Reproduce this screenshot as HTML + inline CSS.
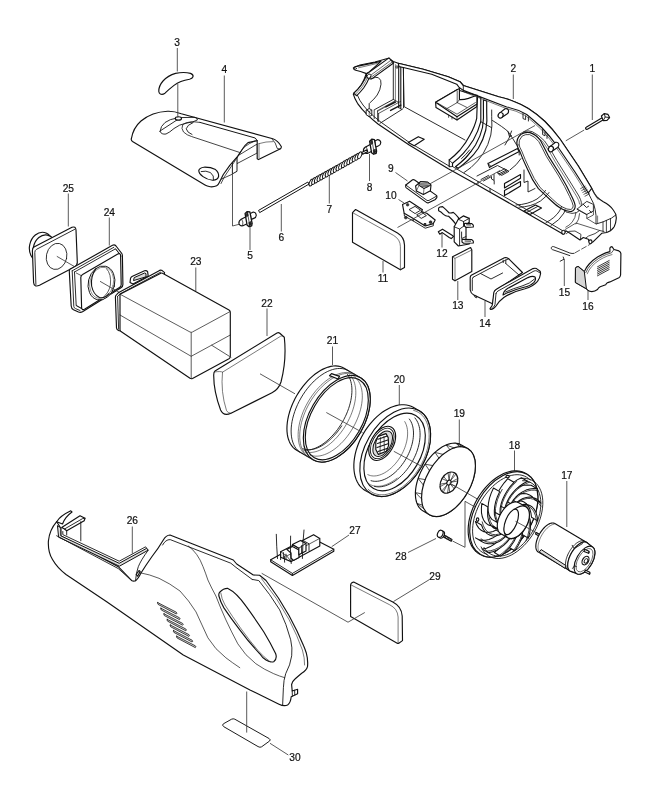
<!DOCTYPE html>
<html><head><meta charset="utf-8"><title>Exploded parts diagram</title>
<style>
html,body{margin:0;padding:0;background:#fff}
svg{display:block;filter:grayscale(1)}
.p{fill:#fff;stroke:#111;stroke-width:1.15;stroke-linejoin:round;stroke-linecap:round}
.g{fill:#dcdcdc;stroke:#111;stroke-width:1;stroke-linejoin:round;stroke-linecap:round}
.n{fill:none;stroke:#151515;stroke-width:.9;stroke-linejoin:round;stroke-linecap:round}
.t{fill:none;stroke:#333;stroke-width:.65;stroke-linejoin:round;stroke-linecap:round}
.l{fill:none;stroke:#3c3c3c;stroke-width:.85}
.k{fill:#333;stroke:#1c1c1c;stroke-width:.6}
.gf{fill:#dcdcdc;stroke:none}
text{font-family:"Liberation Sans",Arial,Helvetica,sans-serif;font-size:10.2px;fill:#111;stroke:#111;stroke-width:.2;text-anchor:middle}
</style></head><body>
<svg width="652" height="800" viewBox="0 0 652 800">
<rect width="652" height="800" fill="#fff"/>
<g id="leaders">
<path class="l" d="M592.3 74.5 L592.3 120"/>
<path class="l" d="M513.3 74.5 L513.3 99"/>
<path class="l" d="M177.3 48 L177.3 71.5"/>
<path class="l" d="M224.3 75.5 L224.3 122.5"/>
<path class="l" d="M250 250 L250 226"/>
<path class="l" d="M281.3 231.5 L281.3 204"/>
<path class="l" d="M329.3 203.5 L329.3 175"/>
<path class="l" d="M369.5 181 L369.5 154"/>
<path class="l" d="M395.5 172.5 L407.5 181"/>
<path class="l" d="M398.5 199.5 L404 203"/>
<path class="l" d="M383 272.5 L383 261"/>
<path class="l" d="M442 247.5 L442 232.5"/>
<path class="l" d="M457.8 300 L457.8 281"/>
<path class="l" d="M485 317 L485 301"/>
<path class="l" d="M564.3 286 L564.3 259"/>
<path class="l" d="M588 300 L588 290.5"/>
<path class="l" d="M566.8 481 L566.8 527"/>
<path class="l" d="M514.5 450.5 L514.5 471"/>
<path class="l" d="M459.3 419.5 L459.3 445"/>
<path class="l" d="M399.3 385 L399.3 405"/>
<path class="l" d="M332.5 346.5 L332.5 365"/>
<path class="l" d="M267 308.5 L267 336"/>
<path class="l" d="M195.8 267.5 L195.8 291"/>
<path class="l" d="M109.3 217.5 L109.3 245.5"/>
<path class="l" d="M68.3 193.5 L68.3 226.5"/>
<path class="l" d="M132.3 526.5 L132.3 553.5"/>
<path class="l" d="M349 535 L331.7 546.7"/>
<path class="l" d="M408 552.5 L436 538.5"/>
<path class="l" d="M429.5 579.5 L393.5 601.5"/>
<path class="l" d="M288.3 755 L270 743.3"/>
</g>
<g id="p25">
<ellipse class="p" cx="41.3" cy="247" rx="11.8" ry="14.8" transform="rotate(12 41.3 247)"/>
<ellipse class="p" cx="44.5" cy="249" rx="11.2" ry="14.2" transform="rotate(12 44.5 249)"/>
<path class="p" d="M34 247 L72 227.3 Q75.6 226 76 230 L77.3 262 Q77.4 265.3 74.5 267 L39.5 285.3 Q34 287.6 33.6 282.5 L32.4 251 Q32.3 248 34 247 Z"/>
<path class="n" d="M35.9 284.5 L34.8 252.5 Q34.8 250.3 36.4 249.4 L74.6 229.4"/>
<ellipse class="p" cx="56.6" cy="256.4" rx="10.2" ry="13.2" transform="rotate(12 56.6 256.4)" style="stroke-width:.8"/>
<path class="l" d="M56.8 256.3 L74 266.3"/>
</g>
<g id="p24">
<path class="p" d="M70 269.3 L112.5 245.3 Q114.5 244.3 116 246 L121.8 253.5 Q122.4 254.3 122.4 256 L122.9 284.5 Q122.9 286.6 121 287.7 L82.5 311.8 Q80.5 312.8 78.5 312 L73.5 309.8 Q71.4 308.6 71.2 306 L69.3 271.5 Q69.2 269.9 70 269.3 Z"/>
<path class="n" d="M72.2 270.8 L113.8 247.3 M72.2 270.8 L73.8 306.5 Q74 308 75.5 308.6 L80 310.5"/>
<path class="n" d="M74.5 272 L115.5 248.8 L121 256"/>
<path class="n" d="M74.5 272 L76.2 305.5 L81.5 308.5"/>
<path class="p" d="M82.6 274.6 L117.8 254 Q120.4 252.8 120.6 255.8 L121.2 284.5 Q121.2 286.5 119.5 287.6 L84.5 309.3 Q81.8 310.5 81.6 307.5 L80.8 277.6 Q80.8 275.6 82.6 274.6 Z"/>
<path class="n" d="M76.3 273 L81.2 275.6 M115.5 248.8 L119.4 253.4 M76.2 305.5 L81.7 308.5" style="stroke-width:.7"/>
<ellipse class="p" cx="101.5" cy="283" rx="13.2" ry="17.2" transform="rotate(14 101.5 283)" style="stroke-width:.9"/>
<ellipse class="n" cx="101.7" cy="282.8" rx="11.8" ry="15.8" transform="rotate(14 101.7 282.8)" style="stroke-width:.6;stroke:#555"/>
<path class="n" d="M96 268.6 Q90.5 276 91.6 286 Q93.4 294.6 99.5 297.6 Q105 298.6 109 293.6" style="stroke-width:1.1"/>
<path class="n" d="M106.5 268.6 Q111.6 274 110.4 285 Q108.8 293 103.5 297" style="stroke-width:.7"/>
<path class="l" d="M100 281.3 L120 292.8"/>
</g>
<g id="p23">
<path class="p" d="M130 282.5 L130.5 278.5 Q130.8 277 132 276.4 L144.5 270.8 Q146.5 270.2 147.6 271.6 L148.2 276 L133 284 Z"/>
<path class="g" d="M133.6 280.2 L134.2 277.6 L144.6 273 L146 273.6 L146 276.4 Z"/>
<path class="p" d="M115.4 297 Q115.4 295.6 116.6 294.6 L118.8 292.4 L159.6 270.4 Q161 269.8 162.2 270.6 L164.6 272.6 L164 276 L121 299 L121.6 331 L119 330.6 Q116.6 330 116.5 328 Z"/>
<path class="n" d="M117.6 296.4 L118.6 329 M117.6 296.4 L120 293.9 L160.6 272.2"/>
<path class="p" d="M120 294.2 L160.8 273.2 Q162 272.8 163 273.4 L229 310 Q230.3 310.8 230.3 312.5 L230.3 356.5 Q230.3 358 229 358.8 L192.5 378.5 Q191.2 379 190 378.3 L121 331.5 Q120 331 120 329.5 Z"/>
<path class="n" d="M120 294.2 L190 332 Q191.2 332.6 192.4 332 L230 311.6 M191.2 332.6 L191.2 378.6" style="stroke-width:.7"/>
<path class="n" d="M120 315 L191.2 356.3 L230.3 335" style="stroke-width:.7"/>
</g>
<path class="l" d="M211.3 345 L231.3 357.5"/>
<g id="p22">
<path class="p" d="M215 371 L277 333 Q278.5 332.2 279.8 333.2 L284.3 337.2 Q286.8 360 281 382 Q278.5 389.5 272 392.8 L231 413.2 Q223.5 416.5 220.6 410 Q213.6 391 213.7 375 Q213.7 372 215 371 Z"/>
<path class="t" d="M214.5 372 Q221 371 222.5 372.2 L280.5 336.3 Q281.5 335.8 282.5 336"/>
<path class="t" d="M222.5 372.2 Q220.5 392 226.5 410.5 Q227.8 413.5 231 413.2"/>
<path class="l" d="M260 373.8 L295 393.8"/>
</g>
<g id="p21">
<path class="p" d="M296.70 450.25 L294.92 449.05 L293.29 447.61 L291.84 445.93 L290.55 444.02 L289.46 441.90 L288.55 439.58 L287.84 437.07 L287.33 434.39 L287.02 431.55 L286.92 428.57 L287.03 425.48 L287.34 422.29 L287.86 419.01 L288.57 415.67 L289.49 412.30 L290.59 408.90 L291.88 405.51 L293.34 402.14 L294.97 398.81 L296.76 395.55 L298.69 392.37 L300.76 389.30 L302.94 386.34 L305.24 383.53 L307.63 380.88 L310.09 378.40 L312.62 376.11 L315.20 374.03 L317.81 372.16 L320.44 370.52 L323.07 369.12 L325.68 367.97 L328.25 367.07 L330.78 366.43 L333.25 366.05 L335.63 365.94 L337.93 366.10 L340.11 366.52 L342.17 367.21 L344.10 368.15 L360.50 377.65 L362.28 378.85 L363.91 380.29 L365.36 381.97 L366.65 383.88 L367.74 386.00 L368.65 388.32 L369.36 390.83 L369.87 393.51 L370.18 396.35 L370.28 399.33 L370.17 402.42 L369.86 405.61 L369.34 408.89 L368.63 412.23 L367.71 415.60 L366.61 419.00 L365.32 422.39 L363.86 425.76 L362.23 429.09 L360.44 432.35 L358.51 435.53 L356.44 438.60 L354.26 441.56 L351.96 444.37 L349.57 447.02 L347.11 449.50 L344.58 451.79 L342.00 453.87 L339.39 455.74 L336.76 457.38 L334.13 458.78 L331.52 459.93 L328.95 460.83 L326.42 461.47 L323.95 461.85 L321.57 461.96 L319.27 461.80 L317.09 461.38 L315.03 460.69 L313.10 459.75 Z"/>
<ellipse class="p" transform="translate(336.80 418.70) rotate(30)" rx="27.30" ry="47.40" />
<path class="n" d="M300.90 452.75 L299.12 451.55 L297.49 450.11 L296.04 448.43 L294.75 446.52 L293.66 444.40 L292.75 442.08 L292.04 439.57 L291.53 436.89 L291.22 434.05 L291.12 431.07 L291.23 427.98 L291.54 424.79 L292.06 421.51 L292.77 418.17 L293.69 414.80 L294.79 411.40 L296.08 408.01 L297.54 404.64 L299.17 401.31 L300.96 398.05 L302.89 394.87 L304.96 391.80 L307.14 388.84 L309.44 386.03 L311.83 383.38 L314.29 380.90 L316.82 378.61 L319.40 376.53 L322.01 374.66 L324.64 373.02 L327.27 371.62 L329.88 370.47 L332.45 369.57 L334.98 368.93 L337.45 368.55 L339.83 368.44 L342.13 368.60 L344.31 369.02 L346.37 369.71 L348.30 370.65"/>
<path class="t" d="M307.09 456.25 L305.41 454.97 L303.89 453.46 L302.53 451.73 L301.34 449.79 L300.33 447.65 L299.51 445.32 L298.87 442.81 L298.43 440.14 L298.18 437.33 L298.13 434.40 L298.28 431.35 L298.62 428.21 L299.16 424.99 L299.89 421.73 L300.80 418.42 L301.90 415.10 L303.17 411.78 L304.61 408.49 L306.21 405.24 L307.96 402.05 L309.85 398.94 L311.86 395.93 L313.99 393.04 L316.23 390.28 L318.56 387.67 L320.96 385.22 L323.43 382.96 L325.94 380.88 L328.49 379.02 L331.06 377.37 L333.63 375.94 L336.18 374.75 L338.71 373.80 L341.20 373.10 L343.63 372.65 L346.00 372.45 L348.27 372.51 L350.45 372.82 L352.52 373.38 L354.46 374.20"/>
<path class="t" d="M308.30 456.88 L306.67 455.57 L305.20 454.03 L303.89 452.28 L302.75 450.32 L301.78 448.16 L300.99 445.83 L300.39 443.33 L299.98 440.67 L299.76 437.87 L299.74 434.96 L299.90 431.93 L300.26 428.82 L300.81 425.64 L301.54 422.40 L302.46 419.13 L303.55 415.85 L304.82 412.57 L306.24 409.32 L307.83 406.10 L309.56 402.95 L311.42 399.88 L313.41 396.90 L315.52 394.03 L317.73 391.30 L320.02 388.71 L322.39 386.28 L324.83 384.03 L327.31 381.96 L329.83 380.10 L332.36 378.44 L334.91 377.01 L337.44 375.80 L339.94 374.83 L342.41 374.09 L344.82 373.61 L347.17 373.37 L349.44 373.38 L351.61 373.64 L353.68 374.14 L355.63 374.89"/>
<ellipse class="p" transform="translate(336.80 418.70) rotate(30)" rx="25.50" ry="45.00" />
<path class="n" d="M347.57 374.47 L348.57 375.99 L349.45 377.66 L350.20 379.46 L350.81 381.40 L351.30 383.46 L351.65 385.63 L351.86 387.91 L351.93 390.28 L351.86 392.73 L351.65 395.25 L351.31 397.84 L350.83 400.48 L350.22 403.15 L349.48 405.85 L348.61 408.57 L347.61 411.29 L346.50 414.00 L345.27 416.68 L343.93 419.34 L342.48 421.95 L340.94 424.50 L339.31 426.99 L337.60 429.40 L335.81 431.72 L333.96 433.94 L332.04 436.06 L330.07 438.05 L328.06 439.92 L326.02 441.65 L323.95 443.24 L321.87 444.68 L319.78 445.96 L317.69 447.09 L315.61 448.04 L313.56 448.83 L311.53 449.44 L309.55 449.87 L307.61 450.13 L305.73 450.20 L303.91 450.10"/>
<path class="t" d="M349.65 374.68 L350.93 376.07 L352.07 377.63 L353.06 379.37 L353.91 381.28 L354.61 383.34 L355.15 385.54 L355.54 387.87 L355.76 390.33 L355.83 392.90 L355.73 395.56 L355.47 398.30 L355.05 401.11 L354.48 403.97 L353.75 406.87 L352.86 409.79 L351.84 412.73 L350.67 415.66 L349.37 418.56 L347.94 421.43 L346.38 424.25 L344.72 427.00 L342.95 429.68 L341.08 432.26 L339.13 434.73 L337.11 437.09 L335.01 439.32 L332.87 441.40 L330.67 443.33 L328.45 445.10 L326.21 446.69 L323.95 448.10 L321.70 449.33 L319.46 450.37 L317.24 451.20 L315.06 451.83 L312.93 452.26 L310.86 452.47 L308.85 452.48 L306.93 452.28 L305.09 451.87"/>
<path class="n" d="M341.72 425.85 L340.89 427.11 L340.03 428.36 L339.15 429.58 L338.26 430.78 L337.34 431.95 L336.40 433.10 L335.45 434.21 L334.48 435.30 L333.50 436.36 L332.51 437.38 L331.50 438.38 L330.48 439.33 L329.45 440.25 L328.41 441.14 L327.37 441.98 L326.32 442.79 L325.27 443.56 L324.21 444.28 L323.15 444.97 L322.09 445.61 L321.04 446.20 L319.98 446.76 L318.93 447.26 L317.88 447.72 L316.84 448.14 L315.80 448.51 L314.78 448.83 L313.76 449.10 L312.76 449.33 L311.77 449.50 L310.79 449.63 L309.83 449.71 L308.88 449.74 L307.95 449.72 L307.04 449.65 L306.15 449.54 L305.28 449.37 L304.43 449.16 L303.61 448.90 L302.81 448.59"/>
<path class="t" d="M354.79 377.21 L356.25 378.48 L357.58 379.95 L358.75 381.62 L359.76 383.48 L360.62 385.51 L361.30 387.72 L361.81 390.08 L362.15 392.58 L362.31 395.21 L362.30 397.95 L362.10 400.78 L361.73 403.70 L361.19 406.69 L360.48 409.72 L359.59 412.78 L358.55 415.86 L357.35 418.93 L356.00 421.98 L354.51 424.99 L352.88 427.95 L351.13 430.84 L349.27 433.63 L347.30 436.33 L345.24 438.90 L343.10 441.35 L340.89 443.64 L338.62 445.78 L336.31 447.74 L333.97 449.52 L331.61 451.10 L329.24 452.49 L326.88 453.66 L324.55 454.62 L322.25 455.35 L320.00 455.86 L317.81 456.14 L315.69 456.19 L313.66 456.01 L311.72 455.60 L309.90 454.97"/>
<path class="p" d="M329.5 375.6 L331.5 373.6 L339.5 376.4 L338 379 Z"/>
<path class="l" d="M326.3 412.5 L362.5 432.5"/>
</g>
<g id="p20">
<path class="p" d="M365.20 490.47 L363.24 489.16 L361.43 487.61 L359.80 485.82 L358.35 483.80 L357.08 481.56 L356.02 479.13 L355.16 476.51 L354.51 473.71 L354.08 470.77 L353.86 467.69 L353.86 464.49 L354.07 461.20 L354.51 457.83 L355.16 454.41 L356.01 450.95 L357.07 447.48 L358.33 444.02 L359.78 440.59 L361.42 437.21 L363.22 433.90 L365.18 430.68 L367.29 427.58 L369.54 424.61 L371.91 421.79 L374.38 419.13 L376.95 416.66 L379.59 414.39 L382.29 412.33 L385.03 410.50 L387.80 408.90 L390.58 407.55 L393.35 406.45 L396.09 405.62 L398.79 405.05 L401.43 404.75 L404.00 404.73 L406.47 404.98 L408.84 405.50 L411.09 406.28 L413.20 407.33 L419.20 410.73 L421.16 412.04 L422.97 413.59 L424.60 415.38 L426.05 417.40 L427.32 419.64 L428.38 422.07 L429.24 424.69 L429.89 427.49 L430.32 430.43 L430.54 433.51 L430.54 436.71 L430.33 440.00 L429.89 443.37 L429.24 446.79 L428.39 450.25 L427.33 453.72 L426.07 457.18 L424.62 460.61 L422.98 463.99 L421.18 467.30 L419.22 470.52 L417.11 473.62 L414.86 476.59 L412.49 479.41 L410.02 482.07 L407.45 484.54 L404.81 486.81 L402.11 488.87 L399.37 490.70 L396.60 492.30 L393.82 493.65 L391.05 494.75 L388.31 495.58 L385.61 496.15 L382.97 496.45 L380.40 496.47 L377.93 496.22 L375.56 495.70 L373.31 494.92 L371.20 493.87 Z"/>
<ellipse class="p" transform="translate(395.20 452.30) rotate(30)" rx="30.00" ry="48.00" />
<path class="t" d="M413.63 410.41 L416.05 411.19 L418.30 412.29 L420.38 413.69 L422.27 415.39 L423.95 417.37 L425.41 419.61 L426.64 422.10 L427.63 424.83 L428.38 427.76 L428.87 430.87 L429.11 434.16 L429.09 437.57 L428.81 441.11 L428.27 444.72 L427.49 448.40 L426.46 452.10 L425.19 455.81 L423.69 459.48 L421.97 463.11 L420.05 466.65 L417.95 470.08 L415.67 473.38 L413.23 476.52 L410.66 479.47 L407.96 482.21 L405.17 484.73 L402.31 487.00 L399.39 489.01 L396.44 490.74 L393.48 492.17 L390.53 493.31 L387.62 494.12 L384.77 494.63 L381.99 494.81 L379.32 494.66 L376.77 494.19 L374.35 493.41 L372.10 492.31 L370.02 490.91 L368.13 489.21"/>
<ellipse class="p" transform="translate(394.60 452.00) rotate(30)" rx="25.80" ry="42.20" />
<path class="n" d="M414.94 417.95 L416.02 419.36 L416.99 420.91 L417.84 422.59 L418.55 424.41 L419.13 426.35 L419.58 428.39 L419.89 430.54 L420.06 432.78 L420.09 435.10 L419.98 437.49 L419.73 439.94 L419.35 442.43 L418.82 444.96 L418.17 447.51 L417.38 450.07 L416.47 452.63 L415.44 455.18 L414.28 457.70 L413.02 460.18 L411.65 462.61 L410.18 464.98 L408.61 467.28 L406.97 469.49 L405.24 471.61 L403.45 473.63 L401.59 475.53 L399.69 477.31 L397.74 478.96 L395.76 480.47 L393.75 481.83 L391.73 483.04 L389.70 484.09 L387.68 484.98 L385.67 485.70 L383.69 486.25 L381.74 486.63 L379.83 486.83 L377.98 486.86 L376.18 486.70 L374.46 486.38"/>
<path class="n" d="M409.34 419.02 L410.28 420.37 L411.10 421.85 L411.81 423.45 L412.39 425.16 L412.86 426.98 L413.20 428.90 L413.42 430.90 L413.50 432.98 L413.46 435.13 L413.30 437.34 L413.01 439.60 L412.59 441.89 L412.05 444.22 L411.39 446.55 L410.61 448.89 L409.72 451.22 L408.71 453.54 L407.61 455.82 L406.40 458.07 L405.10 460.26 L403.72 462.40 L402.25 464.46 L400.71 466.44 L399.10 468.33 L397.44 470.12 L395.72 471.80 L393.96 473.37 L392.16 474.81 L390.34 476.13 L388.50 477.31 L386.66 478.34 L384.81 479.23 L382.97 479.97 L381.15 480.55 L379.36 480.97 L377.60 481.24 L375.89 481.34 L374.22 481.29 L372.62 481.07 L371.08 480.69"/>
<path class="t" d="M404.74 421.61 L405.49 422.95 L406.12 424.40 L406.65 425.95 L407.06 427.60 L407.37 429.34 L407.55 431.15 L407.62 433.04 L407.57 434.99 L407.41 436.99 L407.13 439.04 L406.74 441.11 L406.23 443.21 L405.62 445.32 L404.90 447.44 L404.07 449.54 L403.15 451.63 L402.13 453.68 L401.02 455.70 L399.83 457.67 L398.56 459.58 L397.21 461.42 L395.80 463.19 L394.33 464.87 L392.81 466.46 L391.25 467.95 L389.64 469.32 L388.01 470.59 L386.36 471.73 L384.70 472.75 L383.03 473.63 L381.36 474.38 L379.71 474.98 L378.07 475.45 L376.46 475.77 L374.89 475.94 L373.36 475.97 L371.88 475.85 L370.46 475.58 L369.10 475.17 L367.81 474.61"/>
<path class="t" d="M397.04 478.12 L396.24 478.75 L395.44 479.37 L394.63 479.96 L393.82 480.53 L393.00 481.07 L392.19 481.58 L391.37 482.08 L390.55 482.54 L389.73 482.98 L388.91 483.40 L388.09 483.78 L387.27 484.14 L386.45 484.47 L385.64 484.78 L384.83 485.06 L384.02 485.30 L383.21 485.53 L382.42 485.72 L381.62 485.88 L380.84 486.02 L380.06 486.12 L379.29 486.20 L378.52 486.25 L377.77 486.27 L377.02 486.26 L376.29 486.22 L375.56 486.15 L374.85 486.06 L374.15 485.93 L373.46 485.78 L372.78 485.59 L372.11 485.38 L371.46 485.14 L370.83 484.88 L370.21 484.58 L369.60 484.26 L369.01 483.91 L368.43 483.53 L367.88 483.13 L367.33 482.70"/>
<ellipse class="p" transform="translate(382.20 443.40) rotate(30)" rx="11.20" ry="18.60" />
<ellipse class="n" transform="translate(382.20 443.40) rotate(30)" rx="9.80" ry="16.60" />
<ellipse class="g" transform="translate(382.70 443.70) rotate(30)" rx="8.00" ry="14.00" />
<path class="p" d="M378 436.4 L386 433.6 L388.2 437.6 L388.6 445.4 L386.4 451.2 L378.4 454.4 L375.8 449.6 L375.8 442 Z"/>
<path class="n" d="M378 439.2 L386.6 436.2 M377.4 443.4 L387.8 440 M377 447.6 L388 443.8 M378 451.6 L387 448.4" style="stroke-width:1.1"/>
<path class="n" d="M380.5 437.6 L380 452.6 M384 436.4 L384.4 451"  style="stroke-width:.7"/>
<path class="l" d="M393.8 451.3 L423.8 467.5"/>
</g>
<g id="p19">
<path class="p" d="M423.20 511.08 L421.77 510.12 L420.47 508.96 L419.30 507.61 L418.27 506.08 L417.40 504.37 L416.67 502.51 L416.10 500.49 L415.70 498.33 L415.46 496.04 L415.38 493.65 L415.47 491.16 L415.73 488.59 L416.15 485.95 L416.73 483.26 L417.47 480.54 L418.36 477.81 L419.40 475.08 L420.58 472.36 L421.89 469.68 L423.33 467.05 L424.89 464.49 L426.56 462.01 L428.32 459.63 L430.16 457.36 L432.09 455.22 L434.07 453.22 L436.11 451.38 L438.18 449.70 L440.28 448.19 L442.39 446.86 L444.51 445.73 L446.60 444.80 L448.68 444.07 L450.71 443.55 L452.69 443.25 L454.60 443.15 L456.44 443.28 L458.20 443.61 L459.85 444.16 L461.40 444.92 L467.60 448.52 L469.03 449.48 L470.33 450.64 L471.50 451.99 L472.53 453.52 L473.40 455.23 L474.13 457.09 L474.70 459.11 L475.10 461.27 L475.34 463.56 L475.42 465.95 L475.33 468.44 L475.07 471.01 L474.65 473.65 L474.07 476.34 L473.33 479.06 L472.44 481.79 L471.40 484.52 L470.22 487.24 L468.91 489.92 L467.47 492.55 L465.91 495.11 L464.24 497.59 L462.48 499.97 L460.64 502.24 L458.71 504.38 L456.73 506.38 L454.69 508.22 L452.62 509.90 L450.52 511.41 L448.41 512.74 L446.29 513.87 L444.20 514.80 L442.12 515.53 L440.09 516.05 L438.11 516.35 L436.20 516.45 L434.36 516.32 L432.60 515.99 L430.95 515.44 L429.40 514.68 Z"/>
<ellipse class="p" transform="translate(448.50 481.60) rotate(30)" rx="21.90" ry="38.20" />
<path class="n" d="M424.1 508.9 L417.0 503.4 L422.6 505.2" style="stroke-width:.75"/>
<path class="n" d="M421.6 498.9 L415.4 492.6 L421.7 493.9" style="stroke-width:.75"/>
<path class="n" d="M423.4 485.1 L418.1 478.4 L425.2 479.6" style="stroke-width:.75"/>
<path class="n" d="M429.5 470.7 L425.1 464.2 L432.8 465.6" style="stroke-width:.75"/>
<path class="n" d="M438.9 458.1 L435.0 452.4 L443.0 454.4" style="stroke-width:.75"/>
<path class="n" d="M450.0 449.7 L446.1 445.0 L454.2 447.9" style="stroke-width:.75"/>
<path class="n" d="M460.0 446.8 L455.8 443.2 L463.6 447.0" style="stroke-width:.75"/>
<ellipse class="p" transform="translate(448.90 482.60) rotate(30)" rx="8.00" ry="11.30" />
<path class="n" d="M454.5 472.8 L450.5 480.6 L456.1 474.1" style="stroke-width:.7"/>
<path class="n" d="M457.8 478.5 L451.0 482.2 L457.7 481.0" style="stroke-width:.7"/>
<path class="n" d="M455.8 486.6 L450.2 484.0 L454.3 488.8" style="stroke-width:.7"/>
<path class="n" d="M449.8 492.3 L448.7 485.0 L447.6 493.0" style="stroke-width:.7"/>
<path class="n" d="M443.2 492.4 L447.3 484.6 L441.7 491.1" style="stroke-width:.7"/>
<path class="n" d="M440.0 486.7 L446.8 483.0 L440.1 484.2" style="stroke-width:.7"/>
<path class="n" d="M442.0 478.6 L447.6 481.2 L443.5 476.4" style="stroke-width:.7"/>
<path class="n" d="M448.0 472.9 L449.1 480.2 L450.2 472.2" style="stroke-width:.7"/>
<ellipse class="p" transform="translate(448.90 482.60) rotate(30)" rx="1.90" ry="2.60" />
<path class="l" d="M449.5 483 L480 500.5"/>
</g>
<g id="p18">
<path class="p" d="M479.00 553.68 L477.11 552.43 L475.38 550.94 L473.82 549.21 L472.43 547.27 L471.22 545.11 L470.21 542.77 L469.39 540.24 L468.77 537.55 L468.36 534.70 L468.16 531.73 L468.17 528.65 L468.39 525.47 L468.81 522.22 L469.44 518.91 L470.28 515.57 L471.31 512.22 L472.53 508.88 L473.94 505.56 L475.52 502.30 L477.26 499.10 L479.16 495.99 L481.19 492.99 L483.36 490.12 L485.65 487.39 L488.04 484.82 L490.51 482.43 L493.06 480.23 L495.66 478.23 L498.30 476.45 L500.97 474.90 L503.64 473.59 L506.31 472.53 L508.95 471.71 L511.55 471.16 L514.09 470.86 L516.56 470.83 L518.94 471.07 L521.21 471.56 L523.37 472.31 L525.40 473.32 L527.00 474.22 L528.89 475.47 L530.62 476.96 L532.18 478.69 L533.57 480.63 L534.78 482.79 L535.79 485.13 L536.61 487.66 L537.23 490.35 L537.64 493.20 L537.84 496.17 L537.83 499.25 L537.61 502.43 L537.19 505.68 L536.56 508.99 L535.72 512.33 L534.69 515.68 L533.47 519.02 L532.06 522.34 L530.48 525.60 L528.74 528.80 L526.84 531.91 L524.81 534.91 L522.64 537.78 L520.35 540.51 L517.96 543.08 L515.49 545.47 L512.94 547.67 L510.34 549.67 L507.70 551.45 L505.03 553.00 L502.36 554.31 L499.69 555.37 L497.05 556.19 L494.45 556.74 L491.91 557.04 L489.44 557.07 L487.06 556.83 L484.79 556.34 L482.63 555.59 L480.60 554.58 Z"/>
<ellipse class="p" transform="translate(503.80 514.40) rotate(30)" rx="28.80" ry="46.40" />
<path class="n" d="M487.21 554.34 L484.93 553.60 L482.80 552.56 L480.84 551.23 L479.06 549.63 L477.47 547.77 L476.09 545.65 L474.92 543.29 L473.99 540.73 L473.28 537.96 L472.81 535.02 L472.59 531.92 L472.61 528.69 L472.87 525.36 L473.38 521.94 L474.12 518.48 L475.09 514.98 L476.29 511.48 L477.70 508.01 L479.32 504.59 L481.13 501.25 L483.12 498.01 L485.27 494.90 L487.57 491.94 L490.00 489.15 L492.54 486.56 L495.18 484.19 L497.88 482.04 L500.63 480.15 L503.42 478.52 L506.21 477.17 L509.00 476.10 L511.74 475.32 L514.44 474.85 L517.06 474.68 L519.58 474.82 L521.99 475.26 L524.27 476.00 L526.40 477.04 L528.36 478.37 L530.14 479.97"/>
<path class="p" d="M522.8 517.6 L523.8 520.6 L524.3 523.9 L524.2 527.8 L523.6 532.0 L522.3 536.5 L520.4 541.2 L517.9 546.0 L514.8 550.8 L508.6 547.2 L511.7 542.4 L514.2 537.6 L516.1 532.9 L517.4 528.4 L518.0 524.2 L518.1 520.3 L517.6 517.0 L516.6 514.0 Z" style="stroke-width:1.05"/>
<path class="n" d="M522.4 519.0 L523.1 522.2 L523.3 525.7 L523.0 529.7 L522.0 534.0 L520.5 538.5 L518.3 543.1 L515.5 547.8 L512.2 552.3" style="stroke-width:.8"/>
<path class="p" d="M523.5 510.2 L525.8 511.7 L527.7 513.7 L529.1 516.3 L530.1 519.6 L530.6 523.6 L530.4 528.0 L529.7 532.9 L528.3 538.1 L522.1 534.5 L523.5 529.3 L524.2 524.4 L524.4 520.0 L523.9 516.0 L522.9 512.7 L521.5 510.1 L519.6 508.1 L517.3 506.6 Z" style="stroke-width:1.05"/>
<path class="n" d="M523.6 511.5 L525.7 513.2 L527.3 515.5 L528.5 518.4 L529.2 522.0 L529.4 526.1 L528.9 530.6 L527.8 535.6 L526.0 540.8" style="stroke-width:.8"/>
<path class="p" d="M519.4 525.1 L518.8 529.0 L517.8 532.9 L516.2 537.0 L514.1 541.2 L511.4 545.3 L508.2 549.2 L504.5 552.8 L500.5 556.1 L494.3 552.5 L498.3 549.2 L502.0 545.6 L505.2 541.7 L507.9 537.6 L510.0 533.4 L511.6 529.3 L512.6 525.4 L513.2 521.5 Z" style="stroke-width:1.05"/>
<path class="n" d="M518.5 526.4 L517.7 530.3 L516.4 534.3 L514.6 538.3 L512.2 542.4 L509.3 546.3 L506.0 549.9 L502.2 553.3 L498.1 556.1" style="stroke-width:.8"/>
<path class="p" d="M521.3 504.8 L524.3 504.3 L527.2 504.5 L529.8 505.4 L532.2 507.0 L534.3 509.4 L536.0 512.6 L537.1 516.4 L537.7 520.9 L531.5 517.3 L530.9 512.8 L529.8 509.0 L528.1 505.8 L526.0 503.4 L523.6 501.8 L521.0 500.9 L518.1 500.7 L515.1 501.2 Z" style="stroke-width:1.05"/>
<path class="n" d="M521.9 505.5 L524.8 505.4 L527.5 506.0 L530.0 507.2 L532.2 509.2 L534.0 511.9 L535.4 515.4 L536.2 519.5 L536.4 524.1" style="stroke-width:.8"/>
<path class="p" d="M514.0 531.1 L512.1 535.0 L509.8 538.6 L507.0 542.1 L503.9 545.2 L500.3 547.9 L496.6 550.2 L492.6 551.8 L488.5 552.7 L482.3 549.1 L486.4 548.2 L490.4 546.6 L494.1 544.3 L497.7 541.6 L500.8 538.5 L503.6 535.0 L505.9 531.4 L507.8 527.5 Z" style="stroke-width:1.05"/>
<path class="n" d="M512.9 531.9 L510.7 535.7 L508.3 539.2 L505.4 542.4 L502.1 545.3 L498.5 547.7 L494.7 549.5 L490.8 550.7 L486.9 551.2" style="stroke-width:.8"/>
<path class="p" d="M516.7 502.4 L519.8 500.2 L522.9 498.5 L526.2 497.4 L529.5 497.0 L532.7 497.4 L535.7 498.5 L538.5 500.4 L540.9 503.1 L534.7 499.5 L532.3 496.8 L529.5 494.9 L526.5 493.8 L523.3 493.4 L520.0 493.8 L516.7 494.9 L513.6 496.6 L510.5 498.8 Z" style="stroke-width:1.05"/>
<path class="n" d="M517.6 502.6 L520.8 500.6 L523.9 499.3 L527.1 498.5 L530.3 498.5 L533.4 499.2 L536.2 500.8 L538.7 503.1 L540.8 506.2" style="stroke-width:.8"/>
<path class="p" d="M507.8 534.2 L505.0 537.2 L501.9 539.7 L498.7 541.7 L495.2 543.1 L491.7 543.8 L488.2 543.8 L484.8 543.1 L481.7 541.5 L475.5 537.9 L478.6 539.5 L482.0 540.2 L485.5 540.2 L489.0 539.5 L492.5 538.1 L495.7 536.1 L498.8 533.6 L501.6 530.6 Z" style="stroke-width:1.05"/>
<path class="n" d="M506.8 534.4 L503.8 537.1 L500.7 539.3 L497.4 541.0 L494.0 542.0 L490.6 542.4 L487.2 542.0 L484.0 540.8 L481.1 538.8" style="stroke-width:.8"/>
<path class="p" d="M510.7 503.7 L513.2 500.2 L515.9 497.0 L519.0 494.2 L522.4 491.9 L526.0 490.1 L529.8 488.9 L533.5 488.5 L537.3 488.8 L531.1 485.2 L527.3 484.9 L523.6 485.3 L519.8 486.5 L516.2 488.3 L512.8 490.6 L509.7 493.4 L507.0 496.6 L504.5 500.1 Z" style="stroke-width:1.05"/>
<path class="n" d="M511.8 503.2 L514.4 499.9 L517.3 496.9 L520.5 494.4 L523.9 492.4 L527.5 491.0 L531.2 490.2 L534.9 490.2 L538.4 491.0" style="stroke-width:.8"/>
<path class="p" d="M502.4 533.7 L499.2 535.0 L496.1 535.8 L493.1 535.9 L490.1 535.3 L487.4 533.9 L485.0 531.7 L483.0 528.7 L481.5 525.0 L475.3 521.4 L476.8 525.1 L478.8 528.1 L481.2 530.3 L483.9 531.7 L486.9 532.3 L489.9 532.2 L493.0 531.4 L496.2 530.1 Z" style="stroke-width:1.05"/>
<path class="n" d="M501.6 533.2 L498.4 534.2 L495.4 534.7 L492.5 534.4 L489.7 533.4 L487.2 531.6 L485.1 529.0 L483.4 525.8 L482.2 521.8" style="stroke-width:.8"/>
<path class="p" d="M504.7 508.4 L506.0 504.4 L507.7 500.5 L509.9 496.6 L512.7 492.9 L515.9 489.3 L519.5 486.2 L523.4 483.5 L527.6 481.3 L521.4 477.7 L517.2 479.9 L513.3 482.6 L509.7 485.7 L506.5 489.3 L503.7 493.0 L501.5 496.9 L499.8 500.8 L498.5 504.8 Z" style="stroke-width:1.05"/>
<path class="n" d="M505.8 507.3 L507.3 503.4 L509.2 499.5 L511.6 495.8 L514.5 492.2 L517.9 489.0 L521.6 486.1 L525.5 483.8 L529.7 482.1" style="stroke-width:.8"/>
<path class="p" d="M498.9 529.6 L496.1 529.1 L493.7 528.0 L491.6 526.2 L489.8 523.6 L488.5 520.4 L487.7 516.5 L487.6 512.0 L488.0 507.0 L481.8 503.4 L481.4 508.4 L481.5 512.9 L482.3 516.8 L483.6 520.0 L485.4 522.6 L487.5 524.4 L489.9 525.5 L492.7 526.0 Z" style="stroke-width:1.05"/>
<path class="n" d="M498.5 528.6 L495.9 527.7 L493.7 526.3 L491.8 524.2 L490.3 521.3 L489.3 517.8 L488.8 513.7 L489.0 509.0 L489.8 503.9" style="stroke-width:.8"/>
<path class="p" d="M500.2 515.3 L500.0 511.8 L500.2 508.1 L501.1 504.0 L502.5 499.7 L504.6 495.2 L507.2 490.8 L510.4 486.4 L514.0 482.3 L507.8 478.7 L504.2 482.8 L501.0 487.2 L498.4 491.6 L496.3 496.1 L494.9 500.4 L494.0 504.5 L493.8 508.2 L494.0 511.7 Z" style="stroke-width:1.05"/>
<path class="n" d="M500.9 514.0 L500.9 510.3 L501.4 506.5 L502.6 502.3 L504.3 498.1 L506.6 493.7 L509.4 489.4 L512.8 485.3 L516.6 481.5" style="stroke-width:.8"/>
<path class="p" d="M498.1 523.0 L496.4 520.7 L495.2 518.0 L494.4 514.7 L494.3 510.8 L494.7 506.4 L495.7 501.7 L497.4 496.7 L499.7 491.6 L493.5 488.0 L491.2 493.1 L489.5 498.1 L488.5 502.8 L488.1 507.2 L488.2 511.1 L489.0 514.4 L490.2 517.1 L491.9 519.4 Z" style="stroke-width:1.05"/>
<path class="n" d="M498.2 521.7 L496.8 519.1 L495.8 516.1 L495.4 512.6 L495.5 508.5 L496.3 504.1 L497.6 499.4 L499.6 494.4 L502.2 489.4" style="stroke-width:.8"/>
<path class="n" d="M520.64 478.45 L523.64 478.29 L526.52 478.52 L529.24 479.16 L531.77 480.19 L534.09 481.61 L536.17 483.40 L538.01 485.53 L539.56 488.01 L540.83 490.78 L541.80 493.84 L542.45 497.14 L542.78 500.65 L542.80 504.34 L542.49 508.18 L541.86 512.12 L540.92 516.12 L539.68 520.14 L538.14 524.15 L536.34 528.10 L534.27 531.95 L531.97 535.66 L529.45 539.21 L526.75 542.54 L523.89 545.63 L520.89 548.44 L517.79 550.95 L514.63 553.14 L511.42 554.97 L508.21 556.44 L505.02 557.53 L501.90 558.22 L498.86 558.51 L495.94 558.39 L493.17 557.88 L490.58 556.96 L488.19 555.66 L486.03 553.99 L484.12 551.95 L482.48 549.58 L481.12 546.89"/>
<path class="n" d="M522.54 480.69 L525.14 480.84 L527.61 481.34 L529.92 482.18 L532.06 483.36 L534.00 484.85 L535.72 486.66 L537.22 488.76 L538.47 491.13 L539.47 493.75 L540.21 496.60 L540.67 499.65 L540.86 502.87 L540.78 506.24 L540.41 509.71 L539.78 513.27 L538.87 516.87 L537.71 520.49 L536.30 524.09 L534.66 527.64 L532.80 531.10 L530.73 534.44 L528.48 537.64 L526.07 540.66 L523.52 543.48 L520.85 546.06 L518.08 548.39 L515.25 550.44 L512.38 552.20 L509.50 553.65 L506.62 554.77 L503.79 555.56 L501.02 556.00 L498.34 556.10 L495.77 555.85 L493.35 555.26 L491.08 554.33 L489.00 553.07 L487.11 551.48 L485.45 549.60 L484.01 547.42"/>
<path class="p" d="M500.90 533.80 L500.23 533.35 L499.63 532.81 L499.09 532.18 L498.61 531.47 L498.20 530.67 L497.87 529.80 L497.60 528.85 L497.42 527.84 L497.31 526.78 L497.28 525.66 L497.32 524.49 L497.44 523.29 L497.64 522.05 L497.92 520.79 L498.26 519.52 L498.68 518.24 L499.17 516.96 L499.73 515.69 L500.34 514.43 L501.02 513.20 L501.75 512.00 L502.53 510.84 L503.35 509.72 L504.21 508.66 L505.11 507.66 L506.04 506.72 L506.99 505.85 L507.96 505.06 L508.95 504.35 L509.93 503.73 L510.92 503.20 L511.90 502.76 L512.87 502.42 L513.81 502.17 L514.74 502.03 L515.63 501.98 L516.49 502.04 L517.31 502.19 L518.08 502.45 L518.80 502.80 L525.80 506.80 L526.47 507.25 L527.07 507.79 L527.61 508.42 L528.09 509.13 L528.50 509.93 L528.83 510.80 L529.10 511.75 L529.28 512.76 L529.39 513.82 L529.42 514.94 L529.38 516.11 L529.26 517.31 L529.06 518.55 L528.78 519.81 L528.44 521.08 L528.02 522.36 L527.53 523.64 L526.97 524.91 L526.36 526.17 L525.68 527.40 L524.95 528.60 L524.17 529.76 L523.35 530.88 L522.49 531.94 L521.59 532.94 L520.66 533.88 L519.71 534.75 L518.74 535.54 L517.75 536.25 L516.77 536.87 L515.78 537.40 L514.80 537.84 L513.83 538.18 L512.89 538.43 L511.96 538.57 L511.07 538.62 L510.21 538.56 L509.39 538.41 L508.62 538.15 L507.90 537.80 Z"/>
<ellipse class="p" transform="translate(516.85 522.30) rotate(30)" rx="10.20" ry="17.90" />
<ellipse class="p" cx="511.2" cy="521.9" rx="5.7" ry="13.5" transform="rotate(22 511.2 521.9)"/>
<ellipse class="p" cx="507.6" cy="476.6" rx="1.7" ry="1.2"/>
<ellipse class="p" cx="477.6" cy="519.6" rx="1.2" ry="1.7"/>
<path class="l" d="M515.5 521.3 L538.8 534"/>
</g>
<g id="p28">
<path class="l" d="M475 507 L465 501.3 L465 547.3 L452.5 541"/>
<path class="p" d="M444.5 535.2 L452 539.4 L451.2 541.3 L443.6 537.1 Z"/>
<path class="n" d="M446 536 L445.3 538 M447.5 536.9 L446.8 538.9 M449 537.7 L448.3 539.7 M450.5 538.6 L449.8 540.5"/>
<ellipse class="p" cx="441.6" cy="534.6" rx="2.6" ry="3.7" transform="rotate(25 441.6 534.6)"/>
<ellipse class="p" cx="440.2" cy="533.8" rx="2.6" ry="3.7" transform="rotate(25 440.2 533.8)"/>
</g>
<g id="p17">
<path class="p" d="M536.2 532.6 L541 535.3 L540.3 536.7 L535.5 534 Z"/>
<path class="p" d="M538.35 552.09 L537.83 551.73 L537.37 551.29 L536.96 550.76 L536.61 550.15 L536.33 549.47 L536.10 548.72 L535.95 547.89 L535.85 547.01 L535.83 546.07 L535.87 545.08 L535.97 544.04 L536.15 542.96 L536.38 541.86 L536.68 540.72 L537.04 539.57 L537.46 538.41 L537.94 537.25 L538.47 536.08 L539.05 534.93 L539.67 533.80 L540.34 532.69 L541.05 531.61 L541.79 530.57 L542.56 529.58 L543.36 528.64 L544.17 527.75 L545.00 526.92 L545.84 526.16 L546.69 525.48 L547.53 524.87 L548.37 524.34 L549.20 523.89 L550.01 523.53 L550.81 523.25 L551.57 523.07 L552.31 522.97 L553.00 522.97 L553.66 523.06 L554.28 523.24 L554.85 523.51 L586.75 542.51 L587.27 542.87 L587.73 543.31 L588.14 543.84 L588.49 544.45 L588.77 545.13 L589.00 545.88 L589.15 546.71 L589.25 547.59 L589.27 548.53 L589.23 549.52 L589.13 550.56 L588.95 551.64 L588.72 552.74 L588.42 553.88 L588.06 555.03 L587.64 556.19 L587.16 557.35 L586.63 558.52 L586.05 559.67 L585.43 560.80 L584.76 561.91 L584.05 562.99 L583.31 564.03 L582.54 565.02 L581.74 565.96 L580.93 566.85 L580.10 567.68 L579.26 568.44 L578.41 569.12 L577.57 569.73 L576.73 570.26 L575.90 570.71 L575.09 571.07 L574.29 571.35 L573.53 571.53 L572.79 571.63 L572.10 571.63 L571.44 571.54 L570.82 571.36 L570.25 571.09 Z"/>
<path class="t" d="M538.68 551.06 L538.47 550.51 L538.30 549.92 L538.18 549.28 L538.09 548.61 L538.04 547.90 L538.03 547.16 L538.06 546.39 L538.13 545.59 L538.24 544.76 L538.39 543.92 L538.58 543.06 L538.81 542.18 L539.07 541.29 L539.38 540.39 L539.71 539.48 L540.08 538.58 L540.48 537.67 L540.92 536.77 L541.38 535.88 L541.87 535.00 L542.39 534.14 L542.93 533.29 L543.49 532.46 L544.07 531.66 L544.67 530.89 L545.29 530.14 L545.92 529.43 L546.56 528.76 L547.20 528.12 L547.86 527.53 L548.51 526.97 L549.17 526.47 L549.83 526.00 L550.48 525.59 L551.13 525.23 L551.77 524.92 L552.39 524.66 L553.01 524.45 L553.60 524.30 L554.18 524.20"/>
<path class="n" d="M568.05 569.89 L567.53 569.53 L567.07 569.09 L566.66 568.56 L566.31 567.95 L566.03 567.27 L565.80 566.52 L565.65 565.69 L565.55 564.81 L565.53 563.87 L565.57 562.88 L565.67 561.84 L565.85 560.76 L566.08 559.66 L566.38 558.52 L566.74 557.37 L567.16 556.21 L567.64 555.05 L568.17 553.88 L568.75 552.73 L569.37 551.60 L570.04 550.49 L570.75 549.41 L571.49 548.37 L572.26 547.38 L573.06 546.44 L573.87 545.55 L574.70 544.72 L575.54 543.96 L576.39 543.28 L577.23 542.67 L578.07 542.14 L578.90 541.69 L579.71 541.33 L580.51 541.05 L581.27 540.87 L582.01 540.77 L582.70 540.77 L583.36 540.86 L583.98 541.04 L584.55 541.31"/>
<ellipse class="p" transform="translate(578.50 556.80) rotate(30)" rx="8.00" ry="16.50" />
<path class="p" d="M570.25 571.09 L569.73 570.73 L569.27 570.29 L568.86 569.76 L568.51 569.15 L568.23 568.47 L568.00 567.72 L567.85 566.89 L567.75 566.01 L567.73 565.07 L567.77 564.08 L567.87 563.04 L568.05 561.96 L568.28 560.86 L568.58 559.72 L568.94 558.57 L569.36 557.41 L569.84 556.25 L570.37 555.08 L570.95 553.93 L571.57 552.80 L572.24 551.69 L572.95 550.61 L573.69 549.57 L574.46 548.58 L575.26 547.64 L576.07 546.75 L576.90 545.92 L577.74 545.16 L578.59 544.48 L579.43 543.87 L580.27 543.34 L581.10 542.89 L581.91 542.53 L582.71 542.25 L583.47 542.07 L584.21 541.97 L584.90 541.97 L585.56 542.06 L586.18 542.24 L586.75 542.51 L592.25 546.78 L592.77 547.13 L593.24 547.57 L593.65 548.08 L594.01 548.67 L594.31 549.33 L594.55 550.06 L594.73 550.84 L594.84 551.69 L594.89 552.59 L594.88 553.54 L594.80 554.52 L594.66 555.55 L594.46 556.60 L594.19 557.67 L593.87 558.76 L593.48 559.86 L593.05 560.96 L592.56 562.05 L592.01 563.13 L591.43 564.20 L590.80 565.24 L590.13 566.25 L589.43 567.22 L588.69 568.15 L587.94 569.03 L587.15 569.86 L586.36 570.62 L585.55 571.33 L584.74 571.96 L583.92 572.52 L583.11 573.01 L582.30 573.41 L581.51 573.74 L580.74 573.98 L579.99 574.13 L579.27 574.20 L578.58 574.19 L577.93 574.08 L577.32 573.90 L576.75 573.62 Z"/>
<ellipse class="p" transform="translate(584.50 560.20) rotate(30)" rx="8.00" ry="15.50" />
<ellipse class="t" transform="translate(584.50 560.20) rotate(30)" rx="6.40" ry="13.00" />
<ellipse class="p" transform="translate(585.50 560.60) rotate(30)" rx="3.00" ry="4.60" />
<ellipse class="n" transform="translate(586.00 560.90) rotate(30)" rx="1.60" ry="2.40" />
<path class="p" d="M584.5 549.3 L589 551.2 L588.6 553.3 L584 551.5 Z"/>
<path class="p" d="M585.2 570 L589.8 572.3 L589.5 574.3 L584.8 572 Z"/>
<path class="k" d="M588.6 551.4 L589.4 551.7 L589 553.4 L588.2 553.1 Z M589.4 572.4 L590.2 572.8 L589.9 574.4 L589 574 Z"/>
<path class="n" d="M572.2 545.3 L573.3 547.3 Q573 549 575.5 547.8 L582.5 543.6"/>
<path class="g" d="M541.5 549.8 L566 565.6 L565 568.3 L539.6 552.2 Z"/>
<path class="n" d="M572.5 568.4 L574.6 565.8 L576.4 566.6"/>
</g>
<g id="p3">
<path class="p" d="M158.8 91.5 Q158.6 86 163 81 Q168 75.5 175.5 73.4 Q184 71.6 190.5 73.4 Q193.6 74.6 193 76.8 Q192.4 78.6 189.5 79.2 Q180 80.6 174 85.4 Q168.6 89.6 165 93.2 Q162.4 95 160.4 94 Q159 93.2 158.8 91.5 Z"/>
</g>
<g id="p4">
<path class="p" d="M237 156.3 L257.2 144 L257.2 153 L237 163.6 Z" style="stroke-width:.8"/>
<path class="p" d="M237 154 L237 171.3 L232.4 173.9 L232.4 162 Z" style="stroke-width:.95"/>
<path class="n" d="M221.3 179.1 L231.7 174.5" style="stroke-width:.8"/>
<path class="p" d="M131.3 139 Q133 128 141 121 Q152 112 167.5 111.3 Q174 111 181.3 113.8 L272.8 138.7 Q278 140.4 281.3 146.5 Q281.5 148.4 280 149.1 L258.5 159.6 L257.2 158.8 L257.2 140.6 L248 142.6 Q245 145 242.8 148.5 L237.6 156.3 L229.8 165.4 L223.3 174.5 L219.3 182.4 Q218 185.2 216.7 185.8 Q213.5 187.2 210.2 186.8 Q207 186.2 205 185 L132.5 141.5 Q131 140.3 131.3 139 Z"/>
<path class="n" d="M272.4 139.4 Q275.8 142.4 277.2 148.4 L280 149.1" style="stroke-width:.8"/>
<path class="t" d="M259 143.4 L259 157.6 M259 143.6 Q266 141.4 273 141.6"/>
<path class="n" d="M255.2 140.8 Q248.5 143.6 244.1 147.2 Q241.6 150 240.2 153 L231.1 166.7 L224.6 176.4 L221 183.6" style="stroke-width:.75"/>
<path class="n" d="M200 122.4 L255.2 138 L257.2 140.6" style="stroke-width:1"/>
<path class="n" d="M200 122.4 Q188 120.6 182.8 124.5 Q180.8 128.5 183.5 132 Q187 135.3 191.5 136.5 L239.5 152.4" style="stroke-width:.8"/>
<path class="n" d="M193 122.6 Q187 125 186.2 128.8 Q187 132.5 192 134.5"/>
<path class="n" d="M160 131.5 Q160.5 126 165 122.5 Q170 119 176 118.2 M181 117.6 L195 117.3 Q197.6 118 197.4 120 Q193 122.3 187 123 Q179 124.4 174 128.5 Q169.5 132.5 166 134 Q161.5 134.8 160 131.5 Z"/>
<ellipse class="p" cx="178.4" cy="118.4" rx="3.1" ry="1.7"/>
<path class="p" d="M198.8 170.5 Q199.5 167.6 204 167.2 Q210.5 167 215.5 169.6 Q219 172.4 218.6 176.5 Q217.5 180.4 212.5 180.2 Q207 179.6 203 176.6 Q198.6 173.4 198.8 170.5 Z"/>
<path class="n" d="M201.2 171.5 Q206 170.3 210.5 172.6 Q214.5 175.6 213.5 180"/>
</g>
<path class="l" d="M232.5 174 L232.5 226 L240.2 224"/>
<path class="l" d="M177.8 84 L177.8 117.6"/>
<g transform="translate(248.3 219)">
<path class="p" d="M2 -5.6 L5 -7 Q7.8 -6.6 8 -3.8 Q7.8 -1.2 5.4 -0.6 L2.6 0.6 Z"/>
<path class="p" d="M-0.8 -3 L-7.6 0.6 Q-10 2.4 -9.2 5 Q-8 7.4 -5.4 6.8 L1.4 3.4 Z"/>
<path class="n" d="M-6.6 0.2 Q-4.6 2.6 -5.6 6.6" style="stroke-width:.7"/>
<path class="p" d="M-3.2 -5.4 L-1 -7.4 L1.6 -7 L3.8 4.4 L3.4 6.8 L0.8 7.6 L-1.2 6.2 Z" style="stroke-width:1.3"/>
<path class="k" d="M-2.6 -4.8 L-0.8 -6.6 L0 -3.4 L-1.8 -2 Z M0.4 3.6 L2.6 2.4 L3 6 L1 6.8 Z"/>
<path class="n" d="M-1 -7.4 L1.2 5.4 L0.8 7.6 M1.2 5.4 L3.8 4.4" style="stroke-width:.7"/>
</g>
<g transform="translate(372.8 146.6)">
<path class="p" d="M2 -5.6 L5 -7 Q7.8 -6.6 8 -3.8 Q7.8 -1.2 5.4 -0.6 L2.6 0.6 Z"/>
<path class="p" d="M-0.8 -3 L-7.6 0.6 Q-10 2.4 -9.2 5 Q-8 7.4 -5.4 6.8 L1.4 3.4 Z"/>
<path class="n" d="M-6.6 0.2 Q-4.6 2.6 -5.6 6.6" style="stroke-width:.7"/>
<path class="p" d="M-3.2 -5.4 L-1 -7.4 L1.6 -7 L3.8 4.4 L3.4 6.8 L0.8 7.6 L-1.2 6.2 Z" style="stroke-width:1.3"/>
<path class="k" d="M-2.6 -4.8 L-0.8 -6.6 L0 -3.4 L-1.8 -2 Z M0.4 3.6 L2.6 2.4 L3 6 L1 6.8 Z"/>
<path class="n" d="M-1 -7.4 L1.2 5.4 L0.8 7.6 M1.2 5.4 L3.8 4.4" style="stroke-width:.7"/>
</g>
<path class="p" d="M258.9 210.2 L307.9 182 L309 184.1 L260 212.4 Z" style="stroke-width:1"/>
<g id="p7">
<ellipse class="p" cx="311.20" cy="182.60" rx="1.7" ry="3.7" transform="rotate(24 311.20 182.60)" style="stroke-width:.95"/>
<ellipse class="p" cx="313.90" cy="181.08" rx="1.7" ry="3.7" transform="rotate(24 313.90 181.08)" style="stroke-width:.95"/>
<ellipse class="p" cx="316.60" cy="179.56" rx="1.7" ry="3.7" transform="rotate(24 316.60 179.56)" style="stroke-width:.95"/>
<ellipse class="p" cx="319.30" cy="178.03" rx="1.7" ry="3.7" transform="rotate(24 319.30 178.03)" style="stroke-width:.95"/>
<ellipse class="p" cx="322.00" cy="176.51" rx="1.7" ry="3.7" transform="rotate(24 322.00 176.51)" style="stroke-width:.95"/>
<ellipse class="p" cx="324.70" cy="174.99" rx="1.7" ry="3.7" transform="rotate(24 324.70 174.99)" style="stroke-width:.95"/>
<ellipse class="p" cx="327.40" cy="173.47" rx="1.7" ry="3.7" transform="rotate(24 327.40 173.47)" style="stroke-width:.95"/>
<ellipse class="p" cx="330.10" cy="171.94" rx="1.7" ry="3.7" transform="rotate(24 330.10 171.94)" style="stroke-width:.95"/>
<ellipse class="p" cx="332.80" cy="170.42" rx="1.7" ry="3.7" transform="rotate(24 332.80 170.42)" style="stroke-width:.95"/>
<ellipse class="p" cx="335.50" cy="168.90" rx="1.7" ry="3.7" transform="rotate(24 335.50 168.90)" style="stroke-width:.95"/>
<ellipse class="p" cx="338.20" cy="167.38" rx="1.7" ry="3.7" transform="rotate(24 338.20 167.38)" style="stroke-width:.95"/>
<ellipse class="p" cx="340.90" cy="165.86" rx="1.7" ry="3.7" transform="rotate(24 340.90 165.86)" style="stroke-width:.95"/>
<ellipse class="p" cx="343.60" cy="164.33" rx="1.7" ry="3.7" transform="rotate(24 343.60 164.33)" style="stroke-width:.95"/>
<ellipse class="p" cx="346.30" cy="162.81" rx="1.7" ry="3.7" transform="rotate(24 346.30 162.81)" style="stroke-width:.95"/>
<ellipse class="p" cx="349.00" cy="161.29" rx="1.7" ry="3.7" transform="rotate(24 349.00 161.29)" style="stroke-width:.95"/>
<ellipse class="p" cx="351.70" cy="159.77" rx="1.7" ry="3.7" transform="rotate(24 351.70 159.77)" style="stroke-width:.95"/>
<ellipse class="p" cx="354.40" cy="158.24" rx="1.7" ry="3.7" transform="rotate(24 354.40 158.24)" style="stroke-width:.95"/>
<ellipse class="p" cx="357.10" cy="156.72" rx="1.7" ry="3.7" transform="rotate(24 357.10 156.72)" style="stroke-width:.95"/>
<ellipse class="p" cx="359.80" cy="155.20" rx="1.7" ry="3.7" transform="rotate(24 359.80 155.20)" style="stroke-width:.95"/>
</g>
<path class="p" d="M361.8 152.6 L366.8 149.8 L367.7 151.4 L362.7 154.2 Z"/>
<g id="p26">
<path class="p" d="M56.7 521.7 Q60 516 70.8 510.8 L72 512 Q65 517 62.5 524 Z"/>
<path class="p" d="M61.7 527.5 L80 515.8 L85 518.3 L84.2 520.8 L66.7 530.8 L64.5 529 Z"/>
<path class="n" d="M64.5 529 L82.6 518.6 L85 518.3 M80.8 521.7 L80.8 540.8 M66.7 530.8 L66.7 535"/>
<path class="p" d="M56.7 521.7 Q49.5 530 48.4 541 Q47.8 552 52.5 559.5 Q57 567.5 66 574.5 L106.7 601.7 L183.3 655 L250 690 L279 704.2 Q284 706.6 287.6 705 Q290.6 703 291.2 696.8 L297.6 693.8 L297.6 689.2 L292.2 691 L291.6 684.5 Q292.5 681 295 679 Q298.5 676 301.7 673.3 Q306.5 670.5 307.5 666.7 Q308.2 660 306.4 653.3 Q304.6 648 303.6 645.8 Q297.5 631 289 615.5 Q279 597.5 266 580.5 L259.6 575.3 L253.3 575 L236.7 564 L233.3 560 L170 535 Q166 535.2 163.3 540 Q158 549 152 556.5 Q146 565 141 573 Q138 579 135.5 580.8 Q133.5 581.6 131.5 580.4 L118.3 566.7 L60.8 536 L60.8 528.3 Z"/>
<path class="g" d="M60.8 528.3 L60.8 535.8 L119.2 563.3 L146.7 548.3 L148.2 550.2 L119.4 566.2 L58.6 537.2 L57.5 526 Z"/>
<path class="n" d="M62.8 531.5 L62.8 534.6 L119.2 561.2 L145.6 546.8 L146.7 548.3"/>
<path class="n" d="M56.7 535.8 L118.3 568.6 L131.5 580.4"/>
<path class="n" d="M148.2 550.2 Q141 560 138.3 566.7 Q136 573 135.5 580.8"/>
<path class="p" d="M136.2 574.5 L139 570.5 L140.2 571.5 L137.6 576.2 Z"/>
<path class="n" d="M162.6 545 Q165.6 539.4 170.2 539.6 L230.8 563.2 L236 567.4 L252.2 579.4"/>
<path class="n" d="M252.2 579.4 L258.8 580.6 Q270 594 279.7 609.9 Q286.5 624 290.7 639.8 Q292.6 648 291.7 655.8 Q290.4 665 285.7 673.7 Q283.6 680 283.4 687.7 L282.6 705.6"/>
<path class="t" d="M261.5 578.6 Q277.5 598 289 619.5 Q297.5 636 302.4 650 Q304.8 658 304.6 665"/>
<path class="n" style="stroke-width:.7" d="M188.3 546 Q198 553 203 566.6 Q205.6 573 207.9 580 Q211.5 588 215.9 596 Q220.5 608 225.9 619.9 Q231.5 632 237.8 643.8 Q245 655.5 255.8 663.7 Q264 669.5 273.7 673.7 Q279.5 676.2 284.7 677.7"/>
<path class="n" style="stroke-width:.7" d="M139 572.5 Q150 574.5 159 578.3 Q170 583.5 180 591 Q189 600.5 196 611.9 Q202 625 207.9 637.8 Q215 649.5 225.9 657.8 Q232 662.5 239.8 667.7"/>
<path class="p" d="M218.9 596 Q218.4 593.4 219.9 592 Q223.5 588.2 227.9 588.4 Q236.5 592.5 245.8 605.9 Q255 618.5 263.7 631.8 Q270.5 643 275.7 653.8 Q277.4 659 273.7 661.8 Q270 662.6 266 660 Q262 657.5 259.8 653.8 Q249 642.5 239.8 629.9 Q231 618.5 223.9 607.9 Q220.5 602 218.9 596 Z"/>
<path class="t" d="M220.8 593 Q221.4 598.5 225 605 Q232 616 240.5 628 Q249.5 640.5 258 650.5 Q264 657.5 270.5 662"/>
<path class="g" d="M157.7 602.6 L176.3 612.2 Q177.5 613.4 176.3 614.0 L158.1 604.4 Q157.1 603.2 157.7 602.6 Z" style="stroke-width:.8"/>
<path class="g" d="M160.9 608.2 L179.5 617.8 Q180.7 619.0 179.5 619.6 L161.3 610.0 Q160.3 608.8 160.9 608.2 Z" style="stroke-width:.8"/>
<path class="g" d="M164.0 613.8 L182.6 623.4 Q183.8 624.6 182.6 625.2 L164.4 615.6 Q163.4 614.4 164.0 613.8 Z" style="stroke-width:.8"/>
<path class="g" d="M167.2 619.4 L185.8 629.0 Q187.0 630.2 185.8 630.8 L167.6 621.2 Q166.6 620.0 167.2 619.4 Z" style="stroke-width:.8"/>
<path class="g" d="M170.3 625.0 L188.9 634.6 Q190.1 635.8 188.9 636.4 L170.7 626.8 Q169.7 625.6 170.3 625.0 Z" style="stroke-width:.8"/>
<path class="g" d="M173.5 630.6 L192.1 640.2 Q193.3 641.4 192.1 642.0 L173.9 632.4 Q172.9 631.2 173.5 630.6 Z" style="stroke-width:.8"/>
<path class="g" d="M176.7 636.2 L195.3 645.8 Q196.5 647.0 195.3 647.6 L177.1 638.0 Q176.1 636.8 176.7 636.2 Z" style="stroke-width:.8"/>
<path class="n" d="M292.2 691 L292.4 696.2 M294.6 690.2 L294.8 695"/>
</g>
<g id="p27">
<path class="p" d="M270.7 559.8 L311 537.6 L333.8 549.2 L333.8 551.2 L292.4 575.4 L270.7 561.8 Z"/>
<path class="n" d="M270.7 559.8 L292.4 573.4 L333.8 549.2 M292.4 573.4 L292.4 575.4"/>
<path class="p" d="M280.6 551.7 L313.6 534.7 L319.8 538.4 L319.8 546.1 L291.2 561.6 L280.6 557.3 Z"/>
<path class="n" d="M280.6 551.7 L286.8 556 L319.8 538.4 M286.8 556 L291.2 561.6" style="stroke-width:.7"/>
<path class="p" d="M286.8 549.4 L292.4 546.4 L299 550 L299 557.4 L293.4 560.4 L291 558 L291 553 Z"/>
<path class="p" d="M292.4 544.6 L300.5 540.4 L306 543.4 L306 551 L298.8 554.8 L298.8 548.2 Z"/>
<path class="n" d="M292.4 544.6 L298.8 548.2 L306 543.4 M301.6 545.6 L301.6 553 M304 541 L309 543.8 L309 550.5"/>
<path class="n" d="M283.4 552.6 L283.4 557.6 M286 554.2 L286 559"/>
<path class="n" d="M276.3 534.3 Q276.5 546 277.5 558.5 M290.6 536.1 Q290 550 291.2 563.5 M304 530 Q302.5 544 302.4 558.5 M280.6 554.6 L280.6 559.6 M284.4 556 L284.6 562.2"/>
</g>
<g id="p29">
<path class="p" d="M350.6 585 Q350.8 583.4 352.2 582.6 L353.7 582 L392.8 602 Q401.6 606.5 402.2 616 L402.5 640.6 L398.8 643.2 Q398 643.6 397.2 643.2 L350.6 616.4 Z"/>
<path class="t" d="M351.2 585 L389.7 604.8 Q397.6 608.6 398.1 617 L398.1 643"/>
</g>
<path class="l" d="M261.7 573.3 L348 622.2 L364.8 612.5"/>
<path class="p" d="M223.4 726.4 Q221.6 725 223.4 723.8 L231.6 719.2 Q233.2 718.4 234.8 719.2 L269.2 738.6 Q271 739.8 269.6 741 L261.6 746.8 Q260 747.8 258.4 746.8 Z" style="stroke-width:.95"/>
<path class="l" d="M246.7 691.5 L246.7 732.6"/>
<g id="p9">
<path class="p" d="M405.8 185 L412.6 179.8 Q413.6 179.3 414.6 180 L436.4 195.4 Q437.2 196.2 436.8 197.6 L435.4 199.4 L428.6 202.8 Q427.4 203.2 426.4 202.4 L406 187.6 Q405.4 186.4 405.8 185 Z"/>
<path class="n" d="M405.8 185 L427 200.4 Q428 200.9 429 200.4 L436.8 196"/>
<path class="p" d="M415.6 186 L420.6 181.6 L427.6 182.2 L431 185 L430.4 190.8 L423.4 194.6 L416.4 191 Z"/>
<path class="g" d="M420.6 181.6 L427.6 182.2 L431 185 L424 188.6 L419 185.4 Z" style="fill:#cfcfcf"/>
<path class="n" d="M419 185.4 L416.4 191 M424 188.6 L423.4 194.6 M420.6 183.8 L428.2 184 M420 184.9 L428.6 185.6 M421.5 186.6 L427.5 186.8" style="stroke-width:.6"/>
</g>
<g id="p10">
<path class="p" d="M402.5 204.4 L409.6 201.2 L422.5 209.7 L421.3 211.6 L426.7 213.3 L435.2 220 L433.3 223.6 L425.2 226 L413.3 218.5 L404.2 213.3 Z"/>
<path class="n" d="M404.2 213.3 L404.4 216 L413.3 221 L425.2 228.2 L433.3 225.8 L433.3 223.6 M413.3 218.5 L413.3 221"/>
<path class="n" d="M409.4 209.4 L415 206.4 L420.6 210.2 L415.4 213.4 Z M417 214.6 L421.6 212.2 L426.4 215.6 L421.6 218.2 Z"/>
<circle class="k" cx="407.6" cy="204.8" r="1.3"/><circle class="k" cx="405.8" cy="217.6" r="1.4"/><circle class="k" cx="430.6" cy="222.2" r="1.4"/><circle class="p" cx="425" cy="224.4" r=".9"/>
</g>
<g id="p12">
<path class="p" d="M438.6 208 Q439.4 206.6 442.6 206.6 Q446 209.5 449.2 213 Q451.5 213.2 453.3 212.4 Q456 214.5 458.4 217.6 L459 221.5 L456 224.4 Q452.5 219.5 448.6 216.2 Q446 216.6 443.5 214.4 Q440.8 211.6 438.6 210.8 Z"/>
<path class="p" d="M438.3 231.7 L442.5 229.2 L451.7 235 L453.6 236.4 L451.2 238.6 L449.2 237.5 L442.3 232.6 L439.8 234.2 Z"/>
<path class="p" d="M454.2 226.8 L458.3 219.3 L463.3 215.9 L469.2 218.4 L469.2 222.4 L466 224.5 L466 240.5 L469.2 242 L469.2 244 L458.4 246 L454.2 241.8 Z"/>
<path class="n" d="M454.2 226.8 L459.6 229 L459.6 245.6 M459.6 229 L469.2 222.4 M458.3 219.3 L463.5 221.5 L469.2 218.4 M463.5 221.5 L463.5 226"/>
<path class="n" d="M461.6 232 L461.6 238.6 L466 236.5"/>
<path class="p" d="M464.4 223.2 L471.8 223.6 L473.3 225.2 L473.3 227 L466 227.4 L464.4 226 Z"/>
<path class="p" d="M462 239.2 L471.8 239.6 L473.3 241.2 L473.3 243 L463.6 243.2 L462 242 Z"/>
<path class="n" d="M466.6 224.8 L470.6 225 M465 241 L470.6 241.2"/>
</g>
<g id="p11">
<path class="p" d="M352.5 212.6 L355.6 209.5 L397.5 233 Q404.4 237.2 404.5 245 L404.5 267.5 L400.4 269.8 L352.5 242.2 Z"/>
<path class="t" d="M352.5 212.6 L393.6 235.4 Q400.3 239.4 400.4 246.5 L400.4 269.8"/>
</g>
<g id="p13">
<path class="p" d="M452.5 256.8 L470.6 247.6 L471.8 250 L471.8 271.6 L455 280.8 L452.5 279.2 Z"/>
<path class="t" d="M452.5 256.8 L455 258.4 L455 280.8 M455 258.4 L471.8 250"/>
</g>
<g id="p14">
<path class="p" d="M471.3 275.2 L504.4 257.8 Q505.6 257.3 506.8 257.8 L508.8 258.8 L522.5 272.5 L495 291.3 L492.5 303.8 L473.8 295 Q470.6 293 470.2 290 L470.2 277.5 Q470.3 275.8 471.3 275.2 Z"/>
<path class="n" d="M473.2 277.2 L505.8 260 L508.8 258.8 M505.8 260 L505.8 263.6 M473.2 277.2 Q472.3 278 472.3 279.6 L472.3 290.5"/>
<path class="n" d="M480.5 273.5 L491 279 L502.6 273 M505.8 263.6 L519 275"/>
<path class="n" d="M474.8 295.2 L474.8 297 L476.6 297.8 L476.6 296.2 M503.2 262.6 L503.2 260.2"/>
<path class="p" d="M493.8 292.5 Q494.2 290.5 496 289.4 L501.3 286.3 L533 268.6 Q535 267.9 536.5 268.6 L539.8 271 Q540.8 272 540.5 274 Q540 278 537.5 281.3 Q533 286.5 525 288.8 Q512 292 503.8 297.5 Q499 301 496 306 Q493.5 309.6 490.6 309.4 Q489.6 309 490.4 308 Q492.5 306 492.5 303.8 Z"/>
<path class="n" d="M496 293.6 Q496.5 291.8 498 291 L534 271 Q535.6 270.4 537 271 L540 273"/>
<path class="n" d="M496 293.6 L495 304.5 Q494.4 307 492 308.6"/>
<path class="p" d="M503 295 Q503.5 291 507.5 288.5 L528 277.6 Q532.5 275.6 535 277 Q536.4 279.6 534 282.3 Q530.5 285.8 524 287.3 Q511 290.6 503 295 Z"/>
<path class="n" d="M505.5 292 Q513 288.5 522 286 Q530 283.8 534.6 279"/>
</g>
<path class="n" d="M560.2 261.2 L564 259.2 L563.2 257 M569.8 255.6 L552.4 249.6 Q550.8 248.8 551.2 247.6 Q552 246.2 553.6 246.6 L569.8 253 Q572 253.8 574 253.4"/>
<path class="l" d="M574.7 253 L590.6 244" style="stroke-dasharray:6 1.6"/>
<g id="p16">
<path class="p" d="M575.6 268.1 Q576.4 266.6 578.1 266.5 L584.3 271.6 Q586 267.5 589.2 264 Q593 260 597.5 257.1 Q601.5 254.6 605.7 252.9 L609.9 251.6 L609.9 248.1 Q610.6 246.6 612 246.7 L614 249.5 L618.9 250.9 Q620.8 251.8 620.9 253.6 L620.6 275 Q620.2 277 618.9 277.8 L609.9 281.9 L607.8 282.6 Q606.4 283.4 605.7 284.7 L600.2 286.8 Q598.4 287.8 597.5 289.5 Q595 291.4 591.9 291.6 Q589.5 291.4 587.8 290.2 L586.4 288.8 L575.6 282.6 Z"/>
<path class="g" d="M575.6 268.1 Q576.4 266.6 578.1 266.5 L584.3 271.6 L586.4 288.8 L575.6 282.6 Z" style="fill:#d6d6d6"/>
<path class="n" d="M585.8 272.6 Q587.5 268.5 590.5 265.2 Q594 261.4 598.5 258.5 Q602.5 256 606.5 254.4 L611.5 252.8 L614 249.5" style="stroke-width:.7"/>
<path class="t" d="M587.2 273.8 Q588.8 269.8 591.8 266.4 Q595.2 262.8 599.4 260 Q603.4 257.6 607.4 256 L612 254.6"/>
<path class="n" d="M597.5 266.80 L609.2 260.50" style="stroke-width:.85"/>
<path class="n" d="M597.5 268.60 L609.2 262.30" style="stroke-width:.85"/>
<path class="n" d="M597.5 270.40 L609.2 264.10" style="stroke-width:.85"/>
<path class="n" d="M597.5 272.20 L609.2 265.90" style="stroke-width:.85"/>
<path class="n" d="M597.5 274.00 L609.2 267.70" style="stroke-width:.85"/>
<path class="n" d="M597.5 275.80 L609.2 269.50" style="stroke-width:.85"/>
</g>
<g id="p1">
<path class="p" d="M586.2 127.2 L602.6 117.4 L603.8 119.4 L587.4 129.2 Q586.2 129.6 585.6 128.6 Q585.4 127.6 586.2 127.2 Z"/>
<path class="p" d="M601.4 116 L604.2 113.6 L608 114.4 L609.6 117.6 L607 120.4 L603.2 120.6 Z"/>
<path class="n" d="M604.2 113.6 L605.2 117 L603.2 120.6 M605.2 117 L609.6 117.6"/>
</g>
<g id="p2">
<path class="p" d="M353.3 68 L360 65 L375 62 L388.3 58.3 L393.3 61.5 L398.3 63.3 L423.3 69.2 L448.3 76.7 L460 81.7 L463.3 85.5 L498.7 96.7 Q507 98.6 513.3 101.2 Q521 104 528.3 108.5 Q537 114 545 121.5 Q553 129.5 560 139 L578.3 166 L591.7 188.3 Q594 193.5 596.7 196.7 Q599.5 199.6 603.3 201.7 Q610 205 613.3 210 Q616.5 214 616.3 218.3 Q616 223 614.2 226.7 Q611.5 231 606.7 232.5 L601.7 233.3 L593.3 241.7 L590 243.3 L588.3 239.2 L583.3 237.5 L580 240 L570 233.3 L565.8 230.8 L563.3 234.2 L520 209.2 L477.5 185 L448.3 168.7 L409.2 145 L378.3 124.2 Q372 119.5 366.7 114.2 Q361.5 109 357.5 103.3 Q354.5 98.5 353.3 94.2 Q358 90 361.5 84.5 Q364.5 79.5 365.8 75 L366.7 71.7 Z"/>
<path class="p" d="M353.6 68.6 Q354 67 355.6 66.6 L381 61.4 L368.4 72.6 L366.5 73.6 Q360 71 355.7 70.3 Q353.8 69.8 353.6 68.6 Z"/>
<path class="t" d="M358.6 67.8 L377.4 63.4"/>
<ellipse class="n" cx="355.5" cy="68.6" rx="1" ry=".8" style="stroke-width:.6"/>
<path class="p" d="M366.5 75.1 Q365 80 361 85.3 Q357.5 90 353.6 93.3 L356.8 95.7 Q360 92.5 363.6 88 Q367.2 83 369.4 77.4 Z"/>
<path class="t" d="M367.9 76.2 Q366 81.5 362.3 86.6 Q358.8 91.2 355.2 94.4"/>
<path class="n" d="M372 78.6 Q375.5 76.6 378.3 77.6 Q381.6 79.6 381 84.2 Q380.4 90 377.2 95 Q374 99.5 370.2 102.5 L369.2 103.6 L369.2 109"/>
<path class="p" d="M366.5 110 L369.2 108.6 L371.8 110 L371.8 115.3 L369.2 116.6 L366.5 115 Z" style="stroke-width:.9"/>
<path class="n" d="M366.5 110 L369.2 111.6 L371.8 110 M369.2 111.6 L369.2 116.6" style="stroke-width:.6"/>
<path class="p" d="M366.6 74 L389 57.9 L393.6 63 L372 78.6 Q368.6 79.4 367 77.2 Q366 75.4 366.6 74 Z"/>
<path class="n" d="M369.4 76.2 L391 60.2 M370.6 77.6 L392.6 61.8" style="stroke-width:.65"/>
<ellipse class="p" cx="369" cy="76.2" rx="1.8" ry="2.3" transform="rotate(35 369 76.2)" style="stroke-width:.9"/>
<path class="n" d="M393.3 62.7 L393.3 99.4 L374.6 109.6 M403.5 66 L403.5 107.8"/>
<path class="n" d="M398.7 64.9 L398.7 107.6 M400.8 65.5 L400.8 108.4" style="stroke-width:1.1"/>
<path class="t" d="M395.4 64.6 L395.4 100.6 L377.4 110.6"/>
<circle class="p" cx="397" cy="67" r="1.2" style="stroke-width:.8"/>
<path class="n" d="M374.2 110 L374.2 118.6 M377.6 111.2 L377.6 121 M378.6 113.4 L378.6 121.6 M393.3 99.4 L398.6 102.4 M398.6 107.6 L401.4 109.2" style="stroke-width:.8"/>
<path class="n" d="M377.6 111.2 L394.8 101.6 M378.6 113.4 L400.6 101.4" style="stroke-width:.7"/>
<path class="n" d="M385.8 106.8 L395.4 102 M390.6 110.4 L400.8 105.2" style="stroke-width:1.5"/>
<path class="p" d="M398.3 63.3 L423.3 69.2 L448.3 76.7 L460 81.7 L463.3 85.5 L498.7 96.7 Q507 98.6 513.3 101.2 Q521 104 528.3 108.5 Q537 114 545 121.5 Q553 129.5 560 139 L578.3 166 L591.7 188.3 L588.3 193 L575 172 L558.3 147.5 Q550 136 541.7 127.5 Q534 120.5 526.7 114.5 Q517 109 506.7 107 L463.3 90.4 L459.2 87.5 L456.7 84.2 L431.7 74.2 L403.3 67.5 L399 66.6 Z"/>
<path class="n" d="M463.3 85.5 L463.3 90.4"/>
<path class="n" d="M403.3 68.3 L404.2 106.7 L465 140 M402.6 109 L380 123.3"/>
<path class="n" d="M357.5 95.4 Q359.5 100.5 363 105 Q368 111.5 374 116.5 Q377 119 380 121.5 L409.2 142.4 L449 166"/>
<path class="p" d="M408.3 142.5 L418.3 136.7 L424.2 139.2 L414.2 145.8 Z"/>
<path class="p" d="M435.6 102.2 L457 89.8 L477 95.6 L477 106.6 L457 120 L436 107.6 Z"/>
<path class="p" d="M435.6 102.2 L457 89.8 L459.4 88.6 L459.4 99.6 Q464 99.8 468.4 98.4 Q473 96.8 477 95.2 L477 104 L457 116.8 Z"/>
<path class="n" d="M437.8 103.2 L457 114.2 L475.4 102.6 M457 116.8 L457 120" style="stroke-width:.7"/>
<path class="n" d="M457.2 91 L457.2 102.6 L446.2 109 M457.2 102.6 L466.8 107.4 M459.4 99.6 L457.2 102.6" style="stroke-width:.7"/>
<path class="n" d="M448.6 115.2 L448.6 117.4 M452 117 L452 119" style="stroke-width:.7"/>
<path class="p" d="M477.5 96.5 L480.8 97.5 L480.8 121.7 Q478.5 131 473.3 140 Q469 147 463.3 153.3 Q458 159 452.5 163.3 L452.5 166.5 L449.2 166.7 L449.2 160 Q455 155.5 460 150 Q466 143 470 135 Q475 126 476.7 118.3 Z"/>
<path class="n" d="M452.5 163.3 L449.2 160"/>
<path class="p" d="M483.4 100 L486.7 101 L486.7 111.7 Q487.5 121 485.8 130 Q483.5 139.5 478.3 148.3 Q474 155 468.3 160 Q463 165 458.3 168.3 L455.5 166.8 Q461 162.5 465.5 158 Q471 152 475.5 145 Q480.5 136.5 482.5 127.5 Q484 118 483.4 108 Z"/>
<path class="n" d="M491.7 110 L491.7 116.7 Q492.5 126 490.8 135 Q488.5 145 483.3 153.3 Q478 161.5 471 167.5 Q467 170.5 464 172.5"/>
<path class="n" d="M461.5 158.6 Q466 154.6 469.6 150 M463 160.6 Q467.5 156.4 471 151.6"/>
<path class="p" d="M524 131.6 Q528.5 130 532.3 131.7 Q539 135 544.5 140.9 Q551 149.5 556.8 160.5 L569 180 L578.9 196 Q581 200 581.3 202.2 Q582 207 579.5 210.5 Q577 213.5 572 213.4 L566 212 L524 133 Z" style="stroke-width:.8"/>
<path class="t" d="M530.5 132.6 Q537 135.5 542.8 141.8 Q549.2 150.5 555 161.5 L567.2 181 L577 197 Q579.4 201 579.6 204"/>
<path class="p" d="M517 145 Q516 138.5 521 134.2 Q525 131.8 530 132.6 Q536 134.5 540.5 140.5 Q544.5 148 548.2 155.6 L560.5 175.2 Q567 186 571.5 196 Q574.8 202.5 575.2 205.9 Q575.2 210 571.5 211.4 Q567 212 561 208.5 Q556 205.5 551 200.5 Q544 194 538.4 188.7 Q532 180 527.4 169 Q523 160 520 151.9 Q517.6 147.5 517 145 Z"/>
<path class="n" d="M519 145 Q518.2 139.8 522.2 136 Q525.6 134 529.6 134.6 Q534.6 136.2 538.8 141.6 Q542.6 148.6 546.4 156.4 L558.7 176 Q565 186.6 569.6 196.6 Q572.8 203 573.2 205.9 Q573.2 208.6 570.9 209.5 Q567.4 209.9 562 206.8 Q557.2 203.9 552.4 199.1 Q545.4 192.6 540 187.4 Q533.8 179 529.2 168.2 Q524.8 159.2 521.8 151.2 Q519.6 147.2 519 145 Z" style="stroke-width:.8"/>
<path class="t" d="M464 92 L506 108.4 Q516.4 110.4 525.8 115.8 Q533 121.8 540.6 128.8 Q548.8 137.2 557 148.6 L573.8 173.2 L587 194"/>
<path class="p" d="M499.5 113.1 L505.1 108.7 Q507.5 108.1 508.5 110.3 Q508.9 112.5 507.3 113.7 L501.7 117.5 Z"/>
<ellipse class="p" cx="500.6" cy="115.3" rx="2.4" ry="2.8" transform="rotate(30 500.6 115.3)"/>
<path class="p" d="M549.8 146.79999999999998 L555.4 142.39999999999998 Q557.8 141.79999999999998 558.8 144.0 Q559.1999999999999 146.2 557.5999999999999 147.39999999999998 L552.0 151.2 Z"/>
<ellipse class="p" cx="550.9" cy="149.0" rx="2.4" ry="2.8" transform="rotate(30 550.9 149.0)"/>
<path class="n" d="M523 113.5 L523 118.6 L525.6 119.6 L525.6 116 M528.4 117.4 L528.4 121 M542.6 129.6 L542.6 134.6 L545 135.8 L545 132.4 M547 135 L547 138.4"/>
<path class="n" d="M480.8 121.7 L491.5 127.6 M492.5 120.5 Q503 127 508 131.5 L509.6 137 L511.4 135.6"/>
<path class="n" d="M508 131.5 Q514 140 516.7 145 M505 145 Q510 138 511.6 131"/>
<path class="p" d="M488 163.6 L517.5 148.6 L519.2 151.5 L491 166.4 L489.5 167.6 Z"/>
<path class="n" d="M488 163.6 L491 166.4 M519.2 151.5 L519.2 155"/>
<path class="n" d="M477 176 L497.5 165.5 L505.5 169.6 M481 179.5 L488.5 175.4 M483.5 181 L491.5 176.5 L491.5 179 L494.2 180.5 L494.2 184"/>
<path class="n" d="M497.5 172.6 L504.5 168.8 L509 171.3 L502 175.2 Z M498.6 174 L506.5 170 M499.6 175 L507.2 171 M494 174.5 L494 180"/>
<path class="p" d="M504.5 183.6 L520.5 174.5 L520.5 178.3 L504.5 188 Z M504.5 190.5 L520.5 181.6 L520.5 186 L504.5 195.6 Z"/>
<path class="n" d="M524 170 L524 182.5 L528 181 L528 192 L535 188.5"/>
<path class="n" d="M510 170 Q517 165 521 158.6"/>
<path class="n" d="M516 205 Q528 204.5 537 199 Q543 195 545.5 190.5 M519 207.2 Q531 207 540.5 201 Q546.5 196.5 549 192.6"/>
<path class="n" d="M546 222.6 Q555 218 559.5 211 Q561 208.5 561.5 206.5 M551 225.5 Q560 220 564 213 L565 209.6"/>
<path class="p" d="M524 211 L535.5 205 L541.5 208 L530 214.6 Z"/>
<path class="n" d="M526.6 212.4 L537.8 206.4"/>
<path class="n" d="M452.5 166.5 L478 181.5 L520 205.8 L562.5 230.6"/>
<path class="n" d="M478 181.5 L478 184 M490 188.5 L490 191.6"/>
<path class="n" d="M588.3 193 Q591.5 199.5 593.6 203.6 Q595.6 210 596 215.4 L596 224 L603 221.9 L611.5 218.1 L615.8 215"/>
<path class="n" d="M603 221.9 L603 231.4 M606.4 220.4 L606.4 232.4 M610.5 218.6 L610.5 230.8" style="stroke-width:.8"/>
<path class="t" d="M591.7 188.3 Q594.5 195 598 199.5 M597.6 216 L597.6 223.4"/>
<path class="p" d="M577.2 209 L586.8 201.4 L593.4 204.4 L593.4 211 L586.8 214.4 Z" style="stroke-width:.85"/>
<path class="n" d="M577.2 209 L586.8 214.4 M586.8 214.4 L586.8 218.4 L593.4 215 L593.4 211" style="stroke-width:.7"/>
<path class="n" d="M576 212.4 Q575.6 218 572 222.4 Q569 225.6 565.8 227.2 M579.6 213.6 Q579.4 219.6 576 224" style="stroke-width:.7"/>
<path class="n" d="M565 229.6 L576 223 L599.7 230.5 M586.8 218.4 L596 224" style="stroke-width:.7"/>
<path class="n" d="M566.4 233.7 L569 231.4 L575 231 L581 234.4 L580.4 239 M585.8 238 L588.6 236 L595 233.6 L599.7 230.5 L604 231.5" style="stroke-width:.8"/>
<ellipse class="p" cx="563.4" cy="232.2" rx="1.7" ry="2"/><ellipse class="p" cx="590.4" cy="241.8" rx="1.6" ry="1.9"/>
<path class="n" d="M580.6 188.6 L585.2 186.2" style="stroke-width:.7"/>
<path class="n" d="M581.7 190.5 L586.3 188.1" style="stroke-width:.7"/>
<path class="n" d="M582.8 192.4 L587.4 190.0" style="stroke-width:.7"/>
<path class="n" d="M583.9 194.3 L588.5 191.9" style="stroke-width:.7"/>
<path class="n" d="M585.0 196.2 L589.6 193.8" style="stroke-width:.7"/>
<path class="n" d="M583 204 L586.5 207.5 L588.6 206.2 M589.5 210.5 L591.5 212.6"/>
</g>
<path class="l" d="M430 183.8 L535 125.5"/>
<path class="l" d="M397.5 227.5 L500 170.5"/>
<path class="l" d="M584.2 130 L565.8 140.8"/>
<g id="labels" style="opacity:.999"><text x="592.3" y="72.4">1</text><text x="513.3" y="72.4">2</text><text x="177.0" y="46.1">3</text><text x="224.3" y="73.1">4</text><text x="250.0" y="259.4">5</text><text x="281.3" y="241.1">6</text><text x="329.3" y="213.1">7</text><text x="369.5" y="190.6">8</text><text x="390.8" y="172.4">9</text><text x="391.0" y="199.4">10</text><text x="383.0" y="281.9">11</text><text x="442.0" y="256.6">12</text><text x="457.8" y="309.1">13</text><text x="485.0" y="326.6">14</text><text x="564.5" y="295.6">15</text><text x="588.0" y="309.6">16</text><text x="566.8" y="479.1">17</text><text x="514.5" y="448.6">18</text><text x="459.3" y="417.4">19</text><text x="399.3" y="382.9">20</text><text x="332.5" y="344.4">21</text><text x="267.0" y="306.6">22</text><text x="195.8" y="265.4">23</text><text x="109.3" y="215.6">24</text><text x="68.3" y="191.6">25</text><text x="132.3" y="524.3">26</text><text x="355.0" y="534.3">27</text><text x="401.0" y="560.1">28</text><text x="435.0" y="579.6">29</text><text x="295.0" y="760.9">30</text></g>
</svg>
</body></html>
